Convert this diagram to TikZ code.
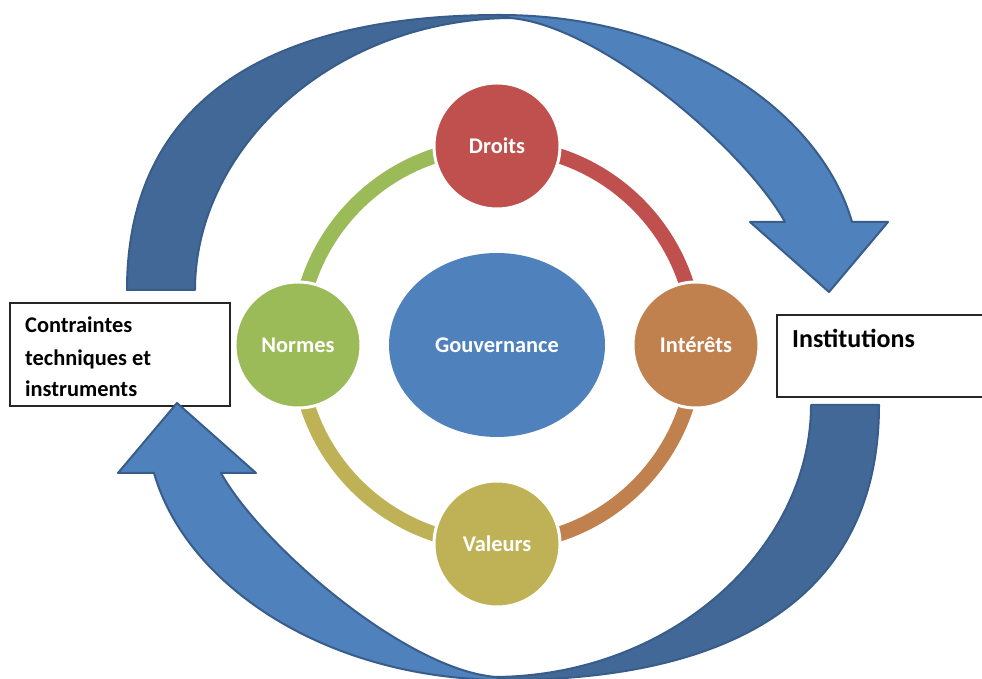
\documentclass[tikz,border=0pt]{standalone}
\usepackage{fontspec}
\setmainfont{Carlito}
\usetikzlibrary{shapes.geometric}
\definecolor{cDroits}{HTML}{C0504D}
\definecolor{cInter}{HTML}{C0814E}
\definecolor{cVal}{HTML}{BFB256}
\definecolor{cNorm}{HTML}{9BBB59}
\definecolor{cGouv}{HTML}{4F81BD}
\definecolor{arrLight}{HTML}{4F81BD}
\definecolor{arrDark}{HTML}{416896}
\definecolor{arrLine}{HTML}{385D8A}
\tikzset{
  bubble/.style={circle, minimum size=126pt, inner sep=0pt, draw=white, line width=3pt,
    text=white, font=\fontsize{22.4}{27}\selectfont\bfseries},
  ringarc/.style={line width=15pt},
  txtbox/.style={draw=black!85, line width=1.5pt},
  boxtext/.style={anchor=base west, inner sep=0pt, text=black},
  arrlightpart/.style={fill=arrLight, draw=arrLine, line width=2pt, line join=round},
  arrdarkpart/.style={fill=arrDark, draw=arrLine, line width=2pt, line join=round},
  cyc arrow/.pic={
    \filldraw[arrlightpart] (500,664) .. controls (680,664) and (820,569) .. (852,457)
      -- (888,457) -- (829,387) -- (750,457) -- (785,457)
      .. controls (745,529) and (600,654) .. (510,661) -- cycle;
    \filldraw[arrdarkpart] (127,389) .. controls (127,579) and (270,664) .. (500,664)
      -- (510,661) .. controls (330,659) and (195,529) .. (195,389) -- cycle;
  }
}
\begin{document}
\begin{tikzpicture}[x=1pt,y=1pt]
\useasboundingbox (0,0) rectangle (982,679);
\clip (0,0) rectangle (982,679);
\fill[white] (0,0) rectangle (982,679);

% text boxes
\draw[txtbox] (10,273) rectangle (230,376);
\draw[txtbox] (777,282) rectangle (995,364);
\node[boxtext, font=\fontsize{22.4}{27}\selectfont\bfseries] (lt1) at (25,346) {Contraintes};
\node[boxtext, font=\fontsize{22.4}{27}\selectfont\bfseries] (lt2) at (25,313.5) {techniques et};
\node[boxtext, font=\fontsize{22.4}{27}\selectfont\bfseries] (lt3) at (25,282) {instruments};
\node[boxtext, font=\fontsize{26}{31}\selectfont\bfseries] (inst) at (792,331) {Institutions};

% big circular arrows
\pic at (0,0) {cyc arrow};
\pic[rotate=180] at (1006,663) {cyc arrow};

% ring
\coordinate (pD) at (497,533);
\coordinate (pI) at (696,334);
\coordinate (pV) at (497,135);
\coordinate (pN) at (298,334);
\coordinate (pG) at (497,334);
\draw[ringarc, cDroits] (pD) arc[start angle=90, end angle=0, radius=199];
\draw[ringarc, cInter] (pI) arc[start angle=0, end angle=-90, radius=199];
\draw[ringarc, cVal] (pV) arc[start angle=-90, end angle=-180, radius=199];
\draw[ringarc, cNorm] (pN) arc[start angle=180, end angle=90, radius=199];

% nodes
\node[ellipse, minimum width=216pt, minimum height=184pt, inner sep=0pt, fill=cGouv,
  text=white, font=\fontsize{22.4}{27}\selectfont\bfseries] (gouv) at (pG) {Gouvernance};
\node[bubble, fill=cDroits] (droits) at (pD) {Droits};
\node[bubble, fill=cInter] (interets) at (pI) {Intérêts};
\node[bubble, fill=cVal] (valeurs) at (pV) {Valeurs};
\node[bubble, fill=cNorm] (normes) at (pN) {Normes};
\end{tikzpicture}
\end{document}
